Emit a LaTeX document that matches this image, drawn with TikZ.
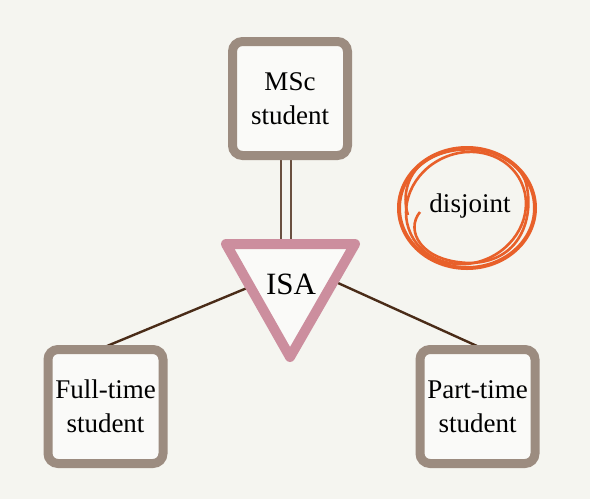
\documentclass[tikz,border=0pt]{standalone}
\usepackage{fontspec}
\setmainfont{Liberation Serif}
\usetikzlibrary{calc}
\definecolor{bg}{HTML}{F5F5F0}
\definecolor{boxc}{HTML}{9C8C80}
\definecolor{isac}{HTML}{CC8E9E}
\definecolor{linec}{HTML}{4A2C18}
\definecolor{dlinec}{HTML}{6A5040}
\definecolor{disc}{HTML}{E8602A}
\tikzset{
  entity/.style={draw=boxc, line width=9pt, rounded corners=10pt, fill=bg!50!white,
    minimum width=115pt, minimum height=114pt, align=center, font=\fontsize{27}{34}\selectfont, inner sep=0pt},
  conn/.style={draw=linec, line width=2.4pt},
}
\begin{document}
\begin{tikzpicture}[x=1pt,y=-1pt]
\fill[bg] (0,0) rectangle (590,499);
\useasboundingbox (0,0) rectangle (590,499);
\coordinate (t1) at (226,244);
\coordinate (t2) at (355,244);
\coordinate (t3) at (290,357);
\coordinate (isaL) at (247,288);
\coordinate (isaR) at (338,283);
\coordinate (ftc) at (105.5,406.5);
\coordinate (ptc) at (477.5,406.5);
\coordinate (mscc) at (290,98.5);
\draw[dlinec, line width=2pt] (280.5,155) -- (280.5,244);
\draw[dlinec, line width=2pt] (291,155) -- (291,244);
\draw[conn] (isaL) -- (107,346);
\draw[conn] (isaR) -- (477,346);
\node[entity] (msc) at (mscc) {MSc\\student};
\node[entity] (ft) at (ftc) {Full-time\\student};
\node[entity] (pt) at (ptc) {Part-time\\student};
\filldraw[draw=isac, fill=bg!50!white, line width=10pt, line join=round] (t1) -- (t2) -- (t3) -- cycle;
\node[font=\fontsize{31}{34}\selectfont] (isa) at (291,284) {ISA};
% disjoint scribble
\draw[disc, line width=4pt] (467,208) ellipse [x radius=68, y radius=60];
\draw[disc, line width=2.6pt, rotate around={25:(466,208)}] (466,208) ellipse [x radius=61, y radius=55];
\draw[disc, line width=2.6pt] (420,212) .. controls (405,230) and (420,262) .. (470,263)
  .. controls (525,262) and (535,210) .. (525,180) .. controls (510,145) and (450,140) .. (420,165)
  .. controls (405,180) and (403,200) .. (408,215);
\node[font=\fontsize{27}{30}\selectfont] (dis) at (470,206) {disjoint};
\end{tikzpicture}
\end{document}
